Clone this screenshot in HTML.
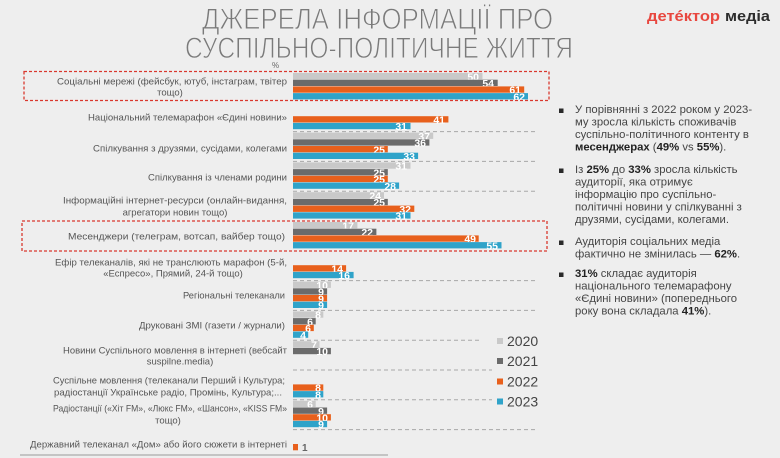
<!DOCTYPE html>
<html>
<head>
<meta charset="utf-8">
<style>
html,body{margin:0;padding:0;background:#eeeeee;}
svg{display:block;}
.lbl{font-family:"Liberation Sans","Noto Sans CJK SC",sans-serif;font-size:9.5px;fill:#555;}
.lc{font-family:"Liberation Sans","Noto Sans CJK SC",sans-serif;font-size:9.5px;fill:#555;text-anchor:middle;}
.val{font-family:"Liberation Sans",sans-serif;font-size:10.5px;font-weight:bold;fill:#fff;text-anchor:end;}
.rt{font-family:"Liberation Sans","Noto Sans CJK SC",sans-serif;font-size:11.3px;fill:#454545;}
.rt tspan.b{font-weight:bold;fill:#222;}
.lg{font-family:"Liberation Sans",sans-serif;font-size:14px;fill:#444;}
</style>
</head>
<body>
<svg width="780" height="458" viewBox="0 0 780 458" xmlns="http://www.w3.org/2000/svg">
<rect x="0" y="0" width="780" height="458" fill="#eeeeee"/>

<!-- Title -->
<g font-family="Liberation Sans, sans-serif" font-size="30" fill="#7a7a7a" stroke="#eeeeee" stroke-width="0.9">
<text x="202" y="29" textLength="351" lengthAdjust="spacingAndGlyphs">ДЖЕРЕЛА ІНФОРМАЦІЇ ПРО</text>
<text x="185" y="58" textLength="388" lengthAdjust="spacingAndGlyphs">СУСПІЛЬНО-ПОЛІТИЧНЕ ЖИТТЯ</text>
</g>
<text x="272" y="68" font-family="Liberation Sans, sans-serif" font-size="8" fill="#666">%</text>

<!-- Logo -->
<text x="647" y="21" font-family="Liberation Sans, sans-serif" font-size="15" font-weight="bold" fill="#e8473f" textLength="73" lengthAdjust="spacingAndGlyphs">детéктор</text>
<text x="725" y="21" font-family="Liberation Sans, sans-serif" font-size="15" font-weight="bold" fill="#2d2d2d" textLength="45" lengthAdjust="spacingAndGlyphs">медіа</text>

<!-- Dashed separators -->
<g stroke="#a8a8a8" stroke-width="1" stroke-dasharray="4,3">
<line x1="293" y1="131.6" x2="538" y2="131.6"/>
<line x1="293" y1="161.4" x2="538" y2="161.4"/>
<line x1="293" y1="191.2" x2="538" y2="191.2"/>
<line x1="293" y1="280.6" x2="538" y2="280.6"/>
<line x1="293" y1="310.4" x2="538" y2="310.4"/>
<line x1="293" y1="340.2" x2="482" y2="340.2"/>
<line x1="293" y1="370" x2="492" y2="370"/>
<line x1="293" y1="399.8" x2="492" y2="399.8"/>
<line x1="293" y1="429.6" x2="538" y2="429.6"/>
</g>
<line x1="20" y1="455" x2="388" y2="455" stroke="#9a9a9a" stroke-width="1"/>

<!-- Bars -->
<rect x="293" y="73" width="189.5" height="6.3" fill="#c9c9c9"/><text class="val" x="479" y="80.3">50</text>
<rect x="293" y="79.7" width="204.7" height="6.3" fill="#6b6b6b"/><text class="val" x="494" y="87">54</text>
<rect x="293" y="86.4" width="231.2" height="6.3" fill="#e8601c"/><text class="val" x="521" y="93.7">61</text>
<rect x="293" y="93.1" width="235" height="6.3" fill="#2fa3c9"/><text class="val" x="525" y="100.4">62</text>

<rect x="293" y="116.2" width="155.4" height="6.3" fill="#e8601c"/><text class="val" x="445" y="123.5">41</text>
<rect x="293" y="122.9" width="117.5" height="6.3" fill="#2fa3c9"/><text class="val" x="407" y="130.2">31</text>

<rect x="293" y="132.6" width="140.2" height="6.3" fill="#c9c9c9"/><text class="val" x="430" y="139.9">37</text>
<rect x="293" y="139.3" width="136.4" height="6.3" fill="#6b6b6b"/><text class="val" x="426" y="146.6">36</text>
<rect x="293" y="146" width="94.8" height="6.3" fill="#e8601c"/><text class="val" x="385" y="153.3">25</text>
<rect x="293" y="152.7" width="125.1" height="6.3" fill="#2fa3c9"/><text class="val" x="415" y="160">33</text>

<rect x="293" y="162.4" width="117.5" height="6.3" fill="#c9c9c9"/><text class="val" x="407" y="169.7">31</text>
<rect x="293" y="169.1" width="94.8" height="6.3" fill="#6b6b6b"/><text class="val" x="385" y="176.4">25</text>
<rect x="293" y="175.8" width="94.8" height="6.3" fill="#e8601c"/><text class="val" x="385" y="183.1">25</text>
<rect x="293" y="182.5" width="106.1" height="6.3" fill="#2fa3c9"/><text class="val" x="396" y="189.8">28</text>

<rect x="293" y="192.2" width="91" height="6.3" fill="#c9c9c9"/><text class="val" x="381" y="199.5">24</text>
<rect x="293" y="198.9" width="94.8" height="6.3" fill="#6b6b6b"/><text class="val" x="385" y="206.2">25</text>
<rect x="293" y="205.6" width="121.3" height="6.3" fill="#e8601c"/><text class="val" x="411" y="212.9">32</text>
<rect x="293" y="212.3" width="117.5" height="6.3" fill="#2fa3c9"/><text class="val" x="407" y="219.6">31</text>

<rect x="293" y="222" width="64.4" height="6.3" fill="#c9c9c9"/><text class="val" x="354" y="229.3">17</text>
<rect x="293" y="228.7" width="83.4" height="6.3" fill="#6b6b6b"/><text class="val" x="373" y="236">22</text>
<rect x="293" y="235.4" width="185.7" height="6.3" fill="#e8601c"/><text class="val" x="476" y="242.7">49</text>
<rect x="293" y="242.1" width="208.5" height="6.3" fill="#2fa3c9"/><text class="val" x="498" y="249.4">55</text>

<rect x="293" y="265.2" width="53.1" height="6.3" fill="#e8601c"/><text class="val" x="343" y="272.5">14</text>
<rect x="293" y="271.9" width="60.6" height="6.3" fill="#2fa3c9"/><text class="val" x="350" y="279.2">16</text>

<rect x="293" y="281.6" width="37.9" height="6.3" fill="#c9c9c9"/><text class="val" x="328" y="288.9">10</text>
<rect x="293" y="288.3" width="34.1" height="6.3" fill="#6b6b6b"/><text class="val" x="324" y="295.6">9</text>
<rect x="293" y="295" width="34.1" height="6.3" fill="#e8601c"/><text class="val" x="324" y="302.3">9</text>
<rect x="293" y="301.7" width="34.1" height="6.3" fill="#2fa3c9"/><text class="val" x="324" y="309">9</text>

<rect x="293" y="311.4" width="30.3" height="6.3" fill="#c9c9c9"/><text class="val" x="321" y="318.7">8</text>
<rect x="293" y="318.1" width="22.7" height="6.3" fill="#6b6b6b"/><text class="val" x="313" y="325.4">6</text>
<rect x="293" y="324.8" width="20.8" height="6.3" fill="#e8601c"/><text class="val" x="311" y="332.1">6</text>
<rect x="293" y="331.5" width="15.2" height="6.3" fill="#2fa3c9"/><text class="val" x="306" y="338.8">4</text>

<rect x="293" y="341.2" width="26.5" height="6.3" fill="#c9c9c9"/><text class="val" x="317" y="348.5">7</text>
<rect x="293" y="347.9" width="37.9" height="6.3" fill="#6b6b6b"/><text class="val" x="328" y="355.2">10</text>

<rect x="293" y="384.4" width="30.3" height="6.3" fill="#e8601c"/><text class="val" x="321" y="391.7">8</text>
<rect x="293" y="391.1" width="30.3" height="6.3" fill="#2fa3c9"/><text class="val" x="321" y="398.4">8</text>

<rect x="293" y="400.8" width="22.7" height="6.3" fill="#c9c9c9"/><text class="val" x="313" y="408.1">6</text>
<rect x="293" y="407.5" width="34.1" height="6.3" fill="#6b6b6b"/><text class="val" x="324" y="414.8">9</text>
<rect x="293" y="414.2" width="37.9" height="6.3" fill="#e8601c"/><text class="val" x="328" y="421.5">10</text>
<rect x="293" y="420.9" width="34.1" height="6.3" fill="#2fa3c9"/><text class="val" x="324" y="428.2">9</text>

<rect x="293" y="444" width="5" height="6.3" fill="#e8601c"/>
<text x="302" y="451" font-family="Liberation Sans, sans-serif" font-size="10" font-weight="bold" fill="#666">1</text>

<!-- Red dashed boxes -->
<rect x="24" y="71.5" width="525" height="29" fill="none" stroke="#d9382e" stroke-width="1.3" stroke-dasharray="3,2"/>
<rect x="22" y="221" width="525" height="30" fill="none" stroke="#d9382e" stroke-width="1.3" stroke-dasharray="3,2"/>

<!-- Category labels -->
<text class="lbl" x="57" y="84.3" textLength="230" lengthAdjust="spacingAndGlyphs">Соціальні мережі (фейсбук, ютуб, інстаграм, твітер</text>
<text class="lc" x="170" y="95.5">тощо)</text>
<text class="lbl" x="88" y="120.3" textLength="199" lengthAdjust="spacingAndGlyphs">Національний телемарафон «Єдині новини»</text>
<text class="lbl" x="93" y="151.3" textLength="194" lengthAdjust="spacingAndGlyphs">Спілкування з друзями, сусідами, колегами</text>
<text class="lbl" x="148" y="180.3" textLength="139" lengthAdjust="spacingAndGlyphs">Спілкування із членами родини</text>
<text class="lbl" x="63" y="203.3" textLength="224" lengthAdjust="spacingAndGlyphs">Інформаційні інтернет-ресурси (онлайн-видання,</text>
<text class="lc" x="175" y="215.3">агрегатори новин тощо)</text>
<text class="lbl" x="68" y="239.3" textLength="217" lengthAdjust="spacingAndGlyphs">Месенджери (телеграм, вотсап, вайбер тощо)</text>
<text class="lbl" x="55" y="265.3" textLength="232" lengthAdjust="spacingAndGlyphs">Ефір телеканалів, які не транслюють марафон (5-й,</text>
<text class="lc" x="173" y="276.5">«Еспресо», Прямий, 24-й тощо)</text>
<text class="lbl" x="183" y="298.3" textLength="102" lengthAdjust="spacingAndGlyphs">Регіональні телеканали</text>
<text class="lbl" x="139" y="328.3" textLength="146" lengthAdjust="spacingAndGlyphs">Друковані ЗМІ (газети / журнали)</text>
<text class="lbl" x="63" y="353.3" textLength="224" lengthAdjust="spacingAndGlyphs">Новини Суспільного мовлення в інтернеті (вебсайт</text>
<text class="lc" x="180" y="364.5">suspilne.media)</text>
<text class="lbl" x="53" y="383.3" textLength="232" lengthAdjust="spacingAndGlyphs">Суспільне мовлення (телеканали Перший і Культура;</text>
<text class="lbl" x="54" y="395.3" textLength="228" lengthAdjust="spacingAndGlyphs">радіостанції Українське радіо, Промінь, Культура;...</text>
<text class="lbl" x="53" y="411.3" textLength="234" lengthAdjust="spacingAndGlyphs">Радіостанції («Хіт FM», «Люкс FM», «Шансон», «KISS FM»</text>
<text class="lc" x="168" y="423.5">тощо)</text>
<text class="lbl" x="30" y="447.3" textLength="257" lengthAdjust="spacingAndGlyphs">Державний телеканал «Дом» або його сюжети в інтернеті</text>

<!-- Legend -->
<rect x="497" y="338" width="6" height="6" fill="#c9c9c9"/><text class="lg" x="507" y="346">2020</text>
<rect x="497" y="358" width="6" height="6" fill="#6b6b6b"/><text class="lg" x="507" y="366">2021</text>
<rect x="497" y="378.5" width="6" height="6" fill="#e8601c"/><text class="lg" x="507" y="386.5">2022</text>
<rect x="497" y="398.5" width="6" height="6" fill="#2fa3c9"/><text class="lg" x="507" y="406.5">2023</text>

<!-- Right text -->
<g fill="#2a2a2a">
<rect x="559" y="108.5" width="4.5" height="4.5"/>
<rect x="559" y="168.5" width="4.5" height="4.5"/>
<rect x="559" y="240.5" width="4.5" height="4.5"/>
<rect x="559" y="272.5" width="4.5" height="4.5"/>
</g>
<text class="rt" x="575" y="113">У порівнянні з 2022 роком у 2023-</text>
<text class="rt" x="575" y="125.5">му зросла кількість споживачів</text>
<text class="rt" x="575" y="138">суспільно-політичного контенту в</text>
<text class="rt" x="575" y="150.5"><tspan class="b">месенджерах</tspan> (<tspan class="b">49%</tspan> vs <tspan class="b">55%</tspan>).</text>

<text class="rt" x="575" y="173">Із <tspan class="b">25%</tspan> до <tspan class="b">33%</tspan> зросла кількість</text>
<text class="rt" x="575" y="185.5">аудиторії, яка отримує</text>
<text class="rt" x="575" y="198">інформацію про суспільно-</text>
<text class="rt" x="575" y="210.5">політичні новини у спілкуванні з</text>
<text class="rt" x="575" y="223">друзями, сусідами, колегами.</text>

<text class="rt" x="575" y="245">Аудиторія соціальних медіа</text>
<text class="rt" x="575" y="257.5">фактично не змінилась — <tspan class="b">62%</tspan>.</text>

<text class="rt" x="575" y="277"><tspan class="b">31%</tspan> складає аудиторія</text>
<text class="rt" x="575" y="289.5">національного телемарафону</text>
<text class="rt" x="575" y="302">«Єдині новини» (попереднього</text>
<text class="rt" x="575" y="314.5">року вона складала <tspan class="b">41%</tspan>).</text>
</svg>
</body>
</html>
